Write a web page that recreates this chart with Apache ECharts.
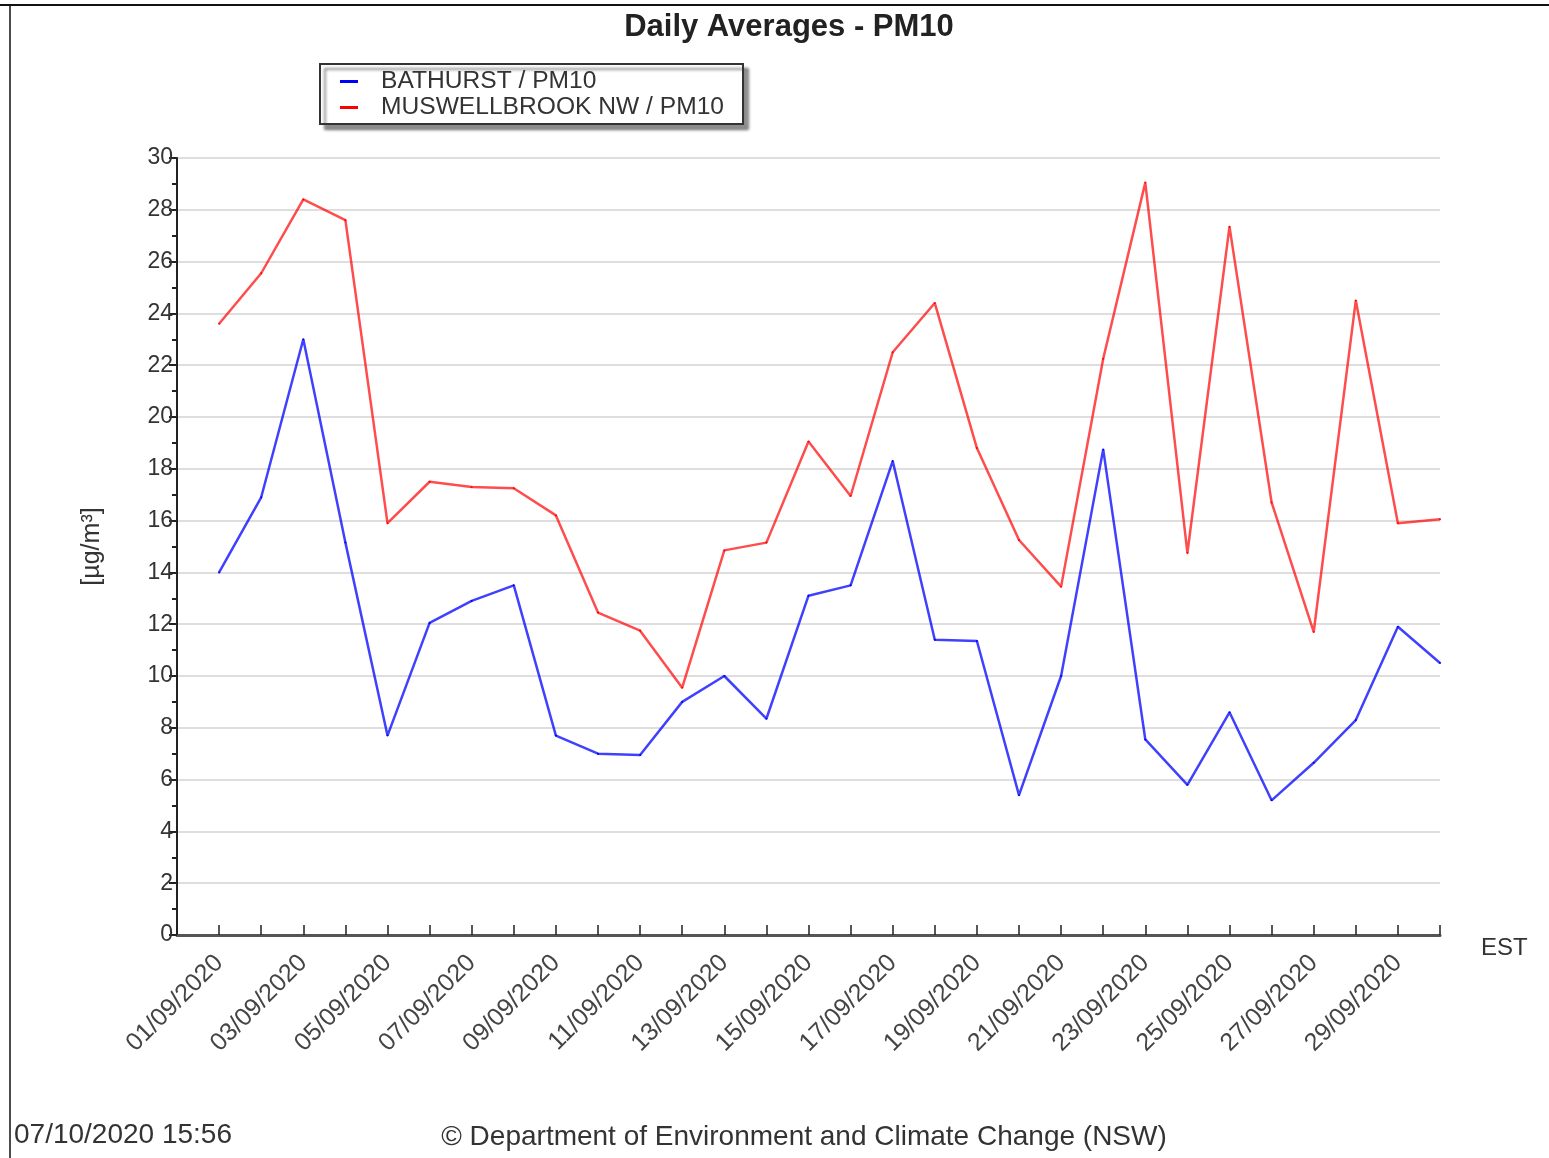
<!DOCTYPE html>
<html>
<head>
<meta charset="utf-8">
<script src="https://cdn.jsdelivr.net/npm/echarts@6/dist/echarts.min.js"></script>
<style>html,body{margin:0;padding:0;background:#fff;}#c{width:1549px;height:1158px;}</style>
</head>
<body>
<div id="c"></div>
<script>
var dates = ['01/09/2020','02/09/2020','03/09/2020','04/09/2020','05/09/2020','06/09/2020','07/09/2020','08/09/2020','09/09/2020','10/09/2020',
             '11/09/2020','12/09/2020','13/09/2020','14/09/2020','15/09/2020','16/09/2020','17/09/2020','18/09/2020','19/09/2020','20/09/2020',
             '21/09/2020','22/09/2020','23/09/2020','24/09/2020','25/09/2020','26/09/2020','27/09/2020','28/09/2020','29/09/2020','30/09/2020'];
var bathurst = [14.0, 16.9, 23.0, 15.15, 7.7, 12.05, 12.9, 13.5, 7.7, 7.0,
                6.95, 9.0, 10.0, 8.35, 13.1, 13.5, 18.3, 11.4, 11.35, 5.4,
                10.0, 18.75, 7.55, 5.8, 8.6, 5.2, 6.65, 8.3, 11.9, 10.5];
var muswellbrook = [23.6, 25.55, 28.4, 27.6, 15.9, 17.5, 17.3, 17.25, 16.2, 12.45,
                    11.75, 9.55, 14.85, 15.15, 19.05, 16.95, 22.5, 24.4, 18.8, 15.25,
                    13.45, 22.25, 29.05, 14.75, 27.35, 16.7, 11.7, 24.5, 15.9, 16.05];
var yTicks = {min: 0, max: 30, interval: 2};
var seriesNames = ['BATHURST / PM10', 'MUSWELLBROOK NW / PM10'];

var FONT = '"Liberation Sans", Arial, sans-serif';
function pairs(vals){ return vals.map(function(v,i){ return [i+1, v]; }); }

var chart = echarts.init(document.getElementById('c'));
chart.setOption({
  animation: false,
  backgroundColor: '#fff',
  title: {
    text: 'Daily Averages - PM10', left: 784, textAlign: 'center', top: 7,
    textStyle: {fontFamily: FONT, fontSize: 31, fontWeight: 'bold', color: '#222'}
  },
  legend: {
    orient: 'vertical', left: 320, top: 64,
    data: seriesNames,
    icon: 'rect', itemWidth: 18, itemHeight: 3, itemGap: 1,
    padding: [5, 19, 4, 20],
    backgroundColor: '#fff', borderColor: '#333', borderWidth: 2,
    shadowColor: 'rgba(0,0,0,0.45)', shadowBlur: 3, shadowOffsetX: 5, shadowOffsetY: 5,
    textStyle: {fontFamily: FONT, fontSize: 24.6, color: '#333', padding: [0, 0, 0, 18]}
  },
  grid: {left: 177, right: 109, top: 158, bottom: 223, containLabel: false},
  xAxis: {
    type: 'value', min: 0, max: 30, interval: 1,
    name: 'EST', nameLocation: 'end', nameGap: 41,
    nameTextStyle: {fontFamily: FONT, fontSize: 24, color: '#333', verticalAlign: 'top', padding: [1, 0, 0, 0]},
    axisLine: {show: true, lineStyle: {color: '#555', width: 3}},
    axisTick: {show: true, inside: true, length: 10, lineStyle: {color: '#222', width: 1.5}},
    splitLine: {show: false},
    axisLabel: {
      rotate: 45, margin: 24, fontFamily: FONT, fontSize: 25, color: '#444',
      formatter: function(v){ return (v % 2 === 1 && v <= 29) ? dates[v-1] : ''; }
    }
  },
  yAxis: {
    type: 'value', min: yTicks.min, max: yTicks.max, interval: yTicks.interval,
    name: '[µg/m³]', nameLocation: 'middle', nameGap: 72, nameRotate: 90,
    nameTextStyle: {fontFamily: FONT, fontSize: 25, color: '#333'},
    axisLine: {show: true, lineStyle: {color: '#222', width: 2}},
    axisTick: {show: true, length: 8, lineStyle: {color: '#222', width: 2}},
    minorTick: {show: true, splitNumber: 2, length: 5, lineStyle: {color: '#222', width: 2}},
    splitLine: {show: true, lineStyle: {color: '#dedede', width: 2}},
    axisLabel: {margin: 4, fontFamily: FONT, fontSize: 23, color: '#333'}
  },
  series: [
    {
      name: seriesNames[0], type: 'line', data: pairs(bathurst),
      color: '#0000ff',
      lineStyle: {color: 'rgba(0,0,255,0.75)', width: 2.5},
      symbol: 'circle', symbolSize: 2, itemStyle: {color: '#0000ff'}
    },
    {
      name: seriesNames[1], type: 'line', data: pairs(muswellbrook),
      color: '#ff0000',
      lineStyle: {color: 'rgba(255,0,0,0.7)', width: 2.5},
      symbol: 'circle', symbolSize: 2, itemStyle: {color: '#ff0000'}
    }
  ],
  graphic: [
    {type: 'line', shape: {x1: 0, y1: 5, x2: 1549, y2: 5}, style: {stroke: '#111', lineWidth: 2}},
    {type: 'line', shape: {x1: 10, y1: 5, x2: 10, y2: 1158}, style: {stroke: '#111', lineWidth: 1.5}},
    {type: 'text', x: 14, y: 1121, style: {text: '07/10/2020 15:56', fontFamily: FONT, fontSize: 28, fill: '#333'}},
    {type: 'text', x: 804, y: 1123, style: {text: '© Department of Environment and Climate Change (NSW)', textAlign: 'center', fontFamily: FONT, fontSize: 28, fill: '#333'}}
  ]
});
</script>
</body>
</html>
